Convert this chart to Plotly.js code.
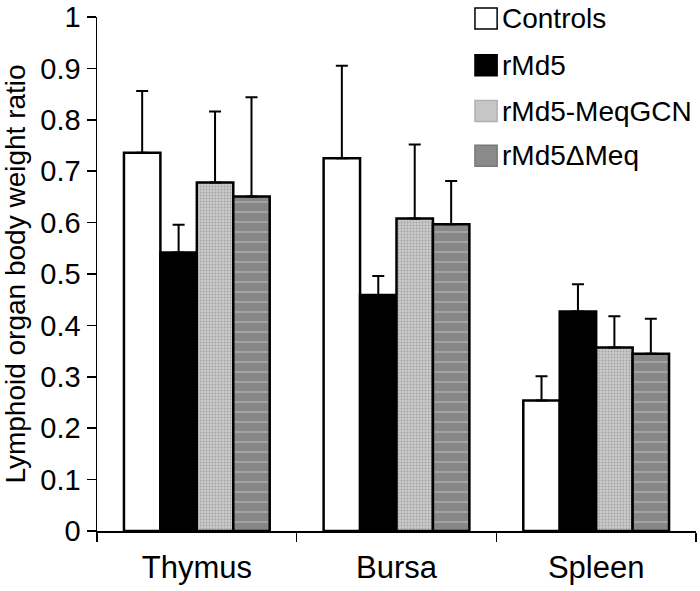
<!DOCTYPE html>
<html>
<head>
<meta charset="utf-8">
<script src="https://cdn.plot.ly/plotly-3.0.1.min.js"></script>
<style>html,body{margin:0;padding:0;background:#fff;}#chart{width:700px;height:591px;}</style>
</head>
<body>
<div id="chart"></div>
<script>
var categories = ["Thymus", "Bursa", "Spleen"];
var seriesNames = ["Controls", "rMd5", "rMd5-MeqGCN", "rMd5\u0394Meq"];
var controls = [0.736, 0.725, 0.254];
var controlsErr = [0.120, 0.180, 0.047];
var rmd5 = [0.542, 0.459, 0.427];
var rmd5Err = [0.054, 0.037, 0.053];
var meqGCN = [0.678, 0.608, 0.357];
var meqGCNErr = [0.138, 0.144, 0.061];
var deltaMeq = [0.651, 0.597, 0.345];
var deltaMeqErr = [0.193, 0.084, 0.068];

var FONT = "Liberation Sans, Arial, sans-serif";
var zeros = [0, 0, 0];

function barTrace(name, y, err, color, pattern) {
  var m = {color: color, line: {color: "#000", width: 2.5}};
  if (pattern) m.pattern = pattern;
  return {
    type: "bar", name: name, x: categories, y: y, marker: m,
    error_y: {type: "data", array: err, arrayminus: zeros, symmetric: false,
              color: "#000", thickness: 2, width: 6},
    showlegend: false, hoverinfo: "skip"
  };
}

var traces = [
  barTrace(seriesNames[0], controls, controlsErr, "#ffffff", null),
  barTrace(seriesNames[1], rmd5, rmd5Err, "#000000", null),
  barTrace(seriesNames[2], meqGCN, meqGCNErr, "#c9c9c9",
           {shape: ".", bgcolor: "#cbcbcb", fgcolor: "#a2a2a2", size: 3, solidity: 0.3, fillmode: "replace"}),
  barTrace(seriesNames[3], deltaMeq, deltaMeqErr, "#878787",
           {shape: "-", bgcolor: "#878787", fgcolor: "#b0b0b0", size: 10, solidity: 0.14, fillmode: "replace"})
];

// custom legend (paper coordinates)
var legendFill = ["#ffffff", "#000000", "#c6c6c6", "#8a8a8a"];
var legendLine = ["#000000", "#000000", "#b0b0b0", "#777777"];
var legendY = [0.997, 0.906, 0.817, 0.730];
var shapes = [], annotations = [];
for (var i = 0; i < seriesNames.length; i++) {
  shapes.push({type: "rect", xref: "paper", yref: "paper",
    x0: 0.631, x1: 0.668, y0: legendY[i] - 0.0204, y1: legendY[i] + 0.0204,
    fillcolor: legendFill[i], line: {color: legendLine[i], width: 1.5}});
  annotations.push({xref: "paper", yref: "paper", x: 0.672, y: legendY[i],
    xanchor: "left", yanchor: "middle", showarrow: false, text: seriesNames[i],
    font: {family: FONT, size: 28, color: "#000"}});
}

var layout = {
  width: 700, height: 591,
  margin: {l: 97, r: 4, t: 17, b: 60},
  paper_bgcolor: "#fff", plot_bgcolor: "#fff",
  barmode: "group", bargap: 0.27, bargroupgap: 0,
  font: {family: FONT, size: 29, color: "#000"},
  xaxis: {
    type: "category", showline: true, linecolor: "#000", linewidth: 1.5,
    ticks: "outside", tickson: "boundaries", ticklen: 9, tickwidth: 1.5, tickcolor: "#000",
    tickfont: {family: FONT, size: 31}, showgrid: false, zeroline: false,
    ticklabelstandoff: 8
  },
  yaxis: {
    range: [0, 1], dtick: 0.1, showline: true, linecolor: "#000", linewidth: 1.5,
    ticks: "outside", ticklen: 9, tickwidth: 1.5, tickcolor: "#000",
    tickfont: {family: FONT, size: 29}, showgrid: false, zeroline: false,
    ticklabeloverflow: "allow",
    title: {text: "Lymphoid organ body weight ratio", font: {family: FONT, size: 28}, standoff: 6}
  },
  shapes: shapes,
  annotations: annotations
};

Plotly.newPlot("chart", traces, layout, {displayModeBar: false, staticPlot: true});
</script>
</body>
</html>
